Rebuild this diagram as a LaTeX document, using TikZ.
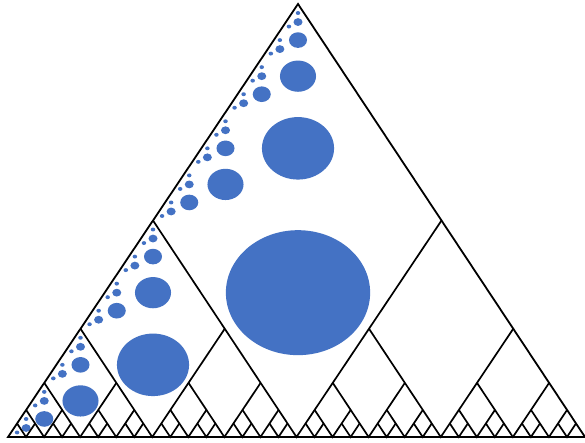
\documentclass[tikz,border=0pt]{standalone}
\usepackage{tikz}
\definecolor{blobblue}{RGB}{68,114,196}

\begin{document}
\begin{tikzpicture}[
        x=1pt, y=-1pt,
        outline/.style={
            draw=black,
            line width=1.8pt,
            line join=miter
        },
        groundline/.style={
            draw=black,
            line width=2.8pt
        },
        vline/.style={
            draw=black,
            line width=1.7pt
        },
        blob/.style={
            fill=blobblue,
            draw=none
        }
    ]

    \useasboundingbox[fill=white] (0,0) rectangle (585,443);

    % --- corner points of the outer triangle ---
    \def\Ax{298} \def\Ay{4}
    \def\Lx{8}   \def\Rx{585} \def\By{437}
    \coordinate (apex)  at (\Ax,\Ay);
    \coordinate (left)  at (\Lx,\By);
    \coordinate (right) at (\Rx,\By);

    \pgfmathsetmacro{\W}{\Rx-\Lx}  % base width
    \pgfmathsetmacro{\H}{\By-\Ay}  % height
    \pgfmathsetmacro{\D}{\Ax-\Lx}  % apex offset from the left corner

    % --- ellipses, one per sub-triangle along the left side ---
    \foreach \k in {0,...,5} {
        \pgfmathtruncatemacro{\n}{2^\k-1}
        \foreach \m in {0,...,\n} {
            \pgfmathsetmacro{\s}{1/2^\k}
            \pgfmathsetmacro{\cx}{\Ax-\m*\s*\D}
            \pgfmathsetmacro{\cy}{\Ay+\m*\s*\H+\s*\H*2/3}
            \pgfmathsetmacro{\rx}{\s*\W/8}
            \pgfmathsetmacro{\ry}{\s*\H*0.1443}
            \fill[blob] (\cx,\cy) ellipse [x radius=\rx, y radius=\ry];
        }
    }

    % --- V lines, halving the triangles down to the base ---
    \foreach \k in {0,...,4} {
        \pgfmathtruncatemacro{\n}{2^\k-1}
        \foreach \j in {0,...,\n} {
            \pgfmathsetmacro{\s}{1/2^\k}
            \pgfmathsetmacro{\bl}{\Lx+\j*\s*\W}
            \pgfmathsetmacro{\ym}{\By-\s*\H/2}
            \draw[vline] (\bl+\s*\D/2,\ym) -- (\bl+\s*\W/2,\By)
                -- (\bl+\s*\W/2+\s*\D/2,\ym);
        }
    }

    % --- outer triangle ---
    \draw[outline] (apex) -- (left) -- (right) -- cycle;
    \draw[groundline] (left) -- (right);

\end{tikzpicture}
\end{document}
